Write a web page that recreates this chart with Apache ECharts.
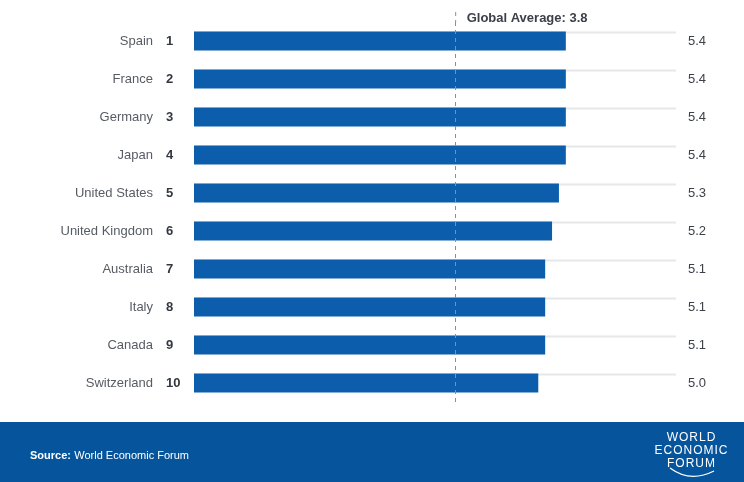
<!DOCTYPE html>
<html>
<head>
<meta charset="utf-8">
<script src="https://cdn.jsdelivr.net/npm/echarts@6/dist/echarts.min.js"></script>
<style>
html,body{margin:0;padding:0;background:#fff;}
#chart{width:744px;height:482px;}
</style>
</head>
<body>
<div id="chart"></div>
<script>
const countries = ['Spain','France','Germany','Japan','United States','United Kingdom','Australia','Italy','Canada','Switzerland'];
const ranks = ['1','2','3','4','5','6','7','8','9','10'];
const scores = [5.4,5.4,5.4,5.4,5.3,5.2,5.1,5.1,5.1,5.0];
const scoreLabels = ['5.4','5.4','5.4','5.4','5.3','5.2','5.1','5.1','5.1','5.0'];
const globalAverage = 3.8;
const scaleMax = 7;
const trackValues = countries.map(() => scaleMax);

const FONT = '"Liberation Sans", Arial, Helvetica, sans-serif';
const chart = echarts.init(document.getElementById('chart'), null, {renderer: 'canvas'});

const hideAxis = {axisLine: {show: false}, axisTick: {show: false}, splitLine: {show: false}};

const option = {
  animation: false,
  backgroundColor: '#ffffff',
  textStyle: {fontFamily: FONT},
  grid: {left: 194, right: 68, top: 22, bottom: 80, containLabel: false},
  xAxis: {type: 'value', min: 0, max: scaleMax, show: false},
  yAxis: [Object.assign({
    type: 'category', data: countries, inverse: true, position: 'left',
    axisLabel: {margin: 41, fontFamily: FONT, fontSize: 13, color: '#575c64'}
  }, hideAxis), Object.assign({
    type: 'category', data: ranks, inverse: true, position: 'left',
    axisLabel: {margin: 28, align: 'left', fontFamily: FONT, fontSize: 13, fontWeight: 'bold', color: '#333840'}
  }, hideAxis), Object.assign({
    type: 'category', data: scoreLabels, inverse: true, position: 'right',
    axisLabel: {margin: 12, fontFamily: FONT, fontSize: 13, color: '#3d424a'}
  }, hideAxis)],
  series: [{
    type: 'bar', data: trackValues, barWidth: 2, silent: true,
    itemStyle: {color: '#e6e7e9'}, barGap: '-100%'
  }, {
    type: 'bar', data: scores, barWidth: 19, barGap: '-100%',
    itemStyle: {color: '#0c5eac'},
    markLine: {
      silent: true, symbol: 'none',
      lineStyle: {type: [4, 4], color: '#8a8d92', width: 1},
      label: {show: false},
      data: [{xAxis: globalAverage}]
    }
  }]
};
chart.setOption(option);

const avgX = chart.convertToPixel({xAxisIndex: 0}, globalAverage);
const hs = '\u200A';
chart.setOption({
  graphic: [
    {type: 'text', left: avgX + 11, top: 12, style: {text: 'Global Average: ' + globalAverage.toFixed(1), font: 'bold 13px ' + FONT, fill: '#3a3f48'}},
    {type: 'line', shape: {x1: avgX, y1: 12, x2: avgX, y2: 22}, style: {stroke: '#8a8d92', lineWidth: 1, lineDash: [4, 4]}},
    {type: 'rect', shape: {x: 0, y: 422, width: 744, height: 60}, style: {fill: '#06559c'}},
    {type: 'text', left: 30, top: 450, style: {
      text: '{b|Source:} {t|World Economic Forum}',
      rich: {
        b: {font: 'bold 11px ' + FONT, fill: '#ffffff'},
        t: {font: '11px ' + FONT, fill: '#ffffff'}
      }
    }},
    {type: 'text', x: 691, y: 438, style: {text: 'WORLD'.split('').join(hs), font: '12px ' + FONT, fill: '#ffffff', align: 'center', verticalAlign: 'middle'}},
    {type: 'text', x: 691, y: 451, style: {text: 'ECONOMIC'.split('').join(hs), font: '12px ' + FONT, fill: '#ffffff', align: 'center', verticalAlign: 'middle'}},
    {type: 'text', x: 691, y: 464, style: {text: 'FORUM'.split('').join(hs), font: '12px ' + FONT, fill: '#ffffff', align: 'center', verticalAlign: 'middle'}},
    {type: 'bezierCurve', shape: {x1: 670, y1: 468, cpx1: 690, cpy1: 483, x2: 714, y2: 471}, style: {stroke: '#ffffff', lineWidth: 1.2, fill: null}}
  ]
});
</script>
</body>
</html>
